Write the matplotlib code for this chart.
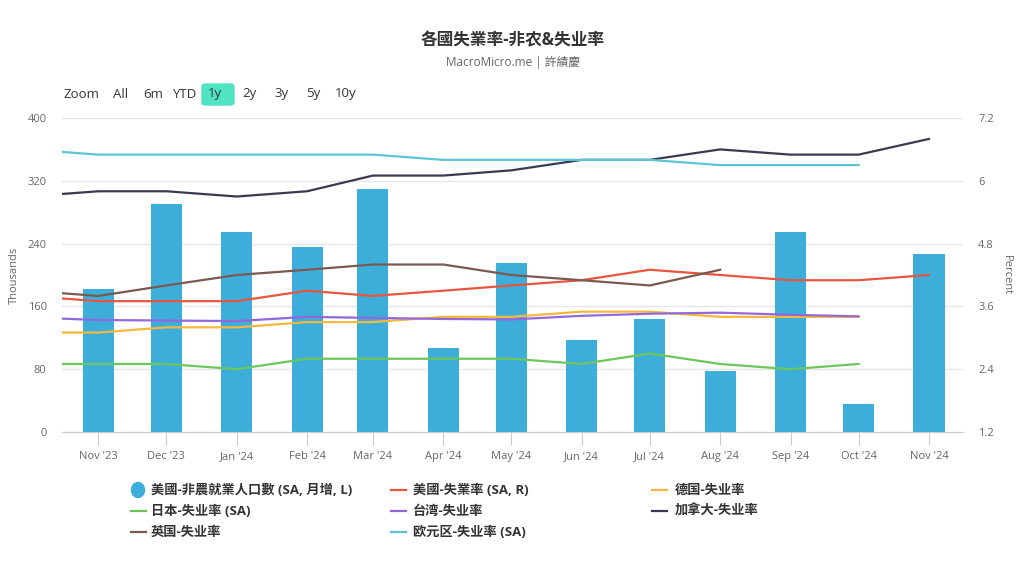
import matplotlib
matplotlib.use("Agg")
import matplotlib.pyplot as plt
from matplotlib.lines import Line2D
from matplotlib.patches import Ellipse, FancyBboxPatch
import pandas as pd

plt.rcParams["font.family"] = ["Open Sans", "Noto Sans CJK TC", "DejaVu Sans"]

# months: Oct '23 .. Nov '24 (Oct '23 only feeds the clipped line start)
months = pd.date_range("2023-10-01", "2024-11-01", freq="MS")
bar_months = months[1:]
tick_labels = ["Nov '23", "Dec '23", "Jan '24", "Feb '24", "Mar '24", "Apr '24", "May '24",
               "Jun '24", "Jul '24", "Aug '24", "Sep '24", "Oct '24", "Nov '24"]

# 美國非農就業人口數 (thousands, monthly change)
us_nfp = [182, 290, 255, 236, 310, 107, 215, 117, 144, 78, 255, 36, 227]

# unemployment rates (%), Oct '23 .. Nov '24 (None = not yet released)
us_rate = [3.8, 3.7, 3.7, 3.7, 3.9, 3.8, 3.9, 4.0, 4.1, 4.3, 4.2, 4.1, 4.1, 4.2]
de_rate = [3.1, 3.1, 3.2, 3.2, 3.3, 3.3, 3.4, 3.4, 3.5, 3.5, 3.4, 3.4, 3.4, None]
jp_rate = [2.5, 2.5, 2.5, 2.4, 2.6, 2.6, 2.6, 2.6, 2.5, 2.7, 2.5, 2.4, 2.5, None]
tw_rate = [3.39, 3.34, 3.33, 3.32, 3.40, 3.38, 3.36, 3.35, 3.42, 3.46, 3.48, 3.44, 3.41, None]
ca_rate = [5.7, 5.8, 5.8, 5.7, 5.8, 6.1, 6.1, 6.2, 6.4, 6.4, 6.6, 6.5, 6.5, 6.8]
uk_rate = [3.9, 3.8, 4.0, 4.2, 4.3, 4.4, 4.4, 4.2, 4.1, 4.0, 4.3, None, None, None]
ea_rate = [6.6, 6.5, 6.5, 6.5, 6.5, 6.5, 6.4, 6.4, 6.4, 6.4, 6.3, 6.3, 6.3, None]

series = [
    ("美國-失業率 (SA, R)", us_rate, "#e8563f"),
    ("德国-失业率", de_rate, "#f6b93b"),
    ("日本-失业率 (SA)", jp_rate, "#6cc65c"),
    ("台湾-失业率", tw_rate, "#9368dd"),
    ("加拿大-失业率", ca_rate, "#393b52"),
    ("英国-失业率", uk_rate, "#7a5a50"),
    ("欧元区-失业率 (SA)", ea_rate, "#5ac6d5"),
]
bar_label = "美國-非農就業人口數 (SA, 月增, L)"
bar_color = "#3daed9"
grey = "#666666"

fig = plt.figure(figsize=(10.27, 5.62), dpi=100)
ax = fig.add_axes([62 / 1027, 130 / 562, 901 / 1027, 314 / 562])
ax2 = ax.twinx()

ax.bar(bar_months, us_nfp, width=13.7, color=bar_color, zorder=2)
for name, vals, color in series:
    s = pd.Series(vals, index=months, dtype=float).dropna()
    ax2.plot(s.index, s.values, color=color, lw=1.6, solid_joinstyle="round")

ax.set_xlim(pd.Timestamp("2023-10-16"), pd.Timestamp("2024-11-16"))
ax.set_ylim(0, 400)
ax.set_yticks(range(0, 401, 80))
ax2.set_ylim(1.2, 7.2)
ax2.set_yticks([1.2, 2.4, 3.6, 4.8, 6.0, 7.2])
ax2.set_yticklabels(["1.2", "2.4", "3.6", "4.8", "6", "7.2"])

ax.set_xticks(bar_months)
ax.set_xticklabels(tick_labels)
ax.grid(axis="y", color="#e6e6e6", lw=1, zorder=0)
ax.set_axisbelow(True)
for a in (ax, ax2):
    for side in ("top", "left", "right", "bottom"):
        a.spines[side].set_visible(False)
ax.spines["bottom"].set_visible(True)
ax.spines["bottom"].set_color("#cccccc")
ax.tick_params(axis="x", colors="#cccccc", length=9, labelcolor=grey, labelsize=8, pad=5)
ax.tick_params(axis="y", length=0, labelcolor=grey, labelsize=8, pad=11)
ax2.tick_params(axis="y", length=0, labelcolor=grey, labelsize=8, pad=11)

fig.text(14 / 1027, 1 - 275 / 562, "Thousands", rotation=90, color=grey, fontsize=8,
         ha="center", va="center")
fig.text(1006 / 1027, 1 - 275 / 562, "Percent", rotation=270, color=grey, fontsize=8,
         ha="center", va="center")

fig.text(513 / 1027, 1 - 40 / 562, "各國失業率-非农&失业率", fontsize=12, weight="bold",
         color="#333333", ha="center", va="center")
fig.text(513 / 1027, 1 - 62 / 562, "MacroMicro.me | 許績慶", fontsize=8.5, color=grey,
         ha="center", va="center")

# range selector
fig.patches.append(FancyBboxPatch((202 / 1027, 1 - 105 / 562), 32 / 1027, 21 / 562,
                                  boxstyle="round,pad=0,rounding_size=0.004",
                                  transform=fig.transFigure, color="#50e3c2"))
for label, x in [("Zoom", 63), ("All", 113), ("6m", 143), ("YTD", 172), ("1y", 208),
                 ("2y", 242), ("3y", 274), ("5y", 306), ("10y", 335)]:
    fig.text(x / 1027, 1 - 94 / 562, label, fontsize=9.5, color="#333333",
             ha="left", va="center")

# legend
rows = [490, 511, 532]
cols = [(131, 151), (391, 413), (652, 675)]
items = [(bar_label, bar_color, "bar")] + [(n, c, "line") for n, _, c in series]
for i, (name, color, kind) in enumerate(items):
    lx, tx = cols[i % 3]
    y = 1 - rows[i // 3] / 562
    if kind == "bar":
        fig.patches.append(Ellipse(((lx + 7) / 1027, y), 13 / 1027, 15 / 562, color=color,
                                   transform=fig.transFigure))
    else:
        fig.lines.append(Line2D([lx / 1027, (lx + 15) / 1027], [y, y], color=color, lw=1.6,
                                transform=fig.transFigure))
    fig.text(tx / 1027, y, name, fontsize=9.5, weight="bold", color="#333333",
             ha="left", va="center")

fig.savefig("out.png", dpi=100, facecolor="white")
